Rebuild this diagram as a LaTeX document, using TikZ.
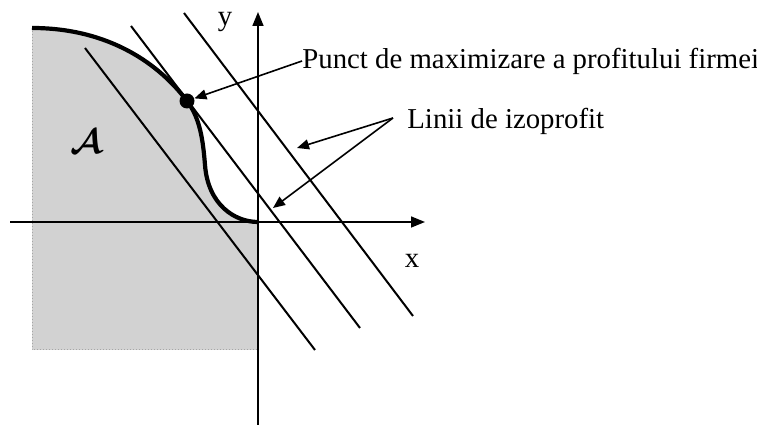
\documentclass[tikz,border=0pt]{standalone}
\usepackage{fontspec}
\usepackage{amsmath}
\setmainfont{Liberation Serif}
\usetikzlibrary{arrows.meta}
\begin{document}
\begin{tikzpicture}[
  x=0.5pt, y=-0.5pt,
  axis/.style={line width=0.8pt, -{Triangle[length=7pt, width=5.5pt]}},
  izo/.style={line width=1pt},
  frontier/.style={line width=2.1pt},
  lead/.style={line width=0.8pt, -{Triangle[length=6pt, width=5pt]}},
  lbl/.style={font=\fontsize{14.4}{17}\selectfont, inner sep=0pt}
]
  \useasboundingbox (0,0) rectangle (757,426);

  % Multimea A (zona hasurata)
  \fill[gray!35] (32,28) .. controls (110,28) and (160,65) .. (187,101)
    .. controls (200,118) and (203,140) .. (205,165)
    .. controls (208,205) and (235,222) .. (258,222)
    -- (258,350) -- (32,350) -- cycle;
  \draw[gray!70, densely dotted, line width=0.5pt] (32,28) -- (32,350) -- (258,350);

  % Axe
  \coordinate (xa) at (10,222);
  \coordinate (xb) at (425,222);
  \coordinate (ya) at (258,425);
  \coordinate (yb) at (258,12);
  \draw[axis] (xa) -- (xb);
  \draw[axis] (ya) -- (yb);
  \node[lbl] (ylab) at (225,22) {y};
  \node[lbl] (xlab) at (412,261) {x};

  % Frontiera
  \draw[frontier] (32,28) .. controls (110,28) and (160,65) .. (187,101)
    .. controls (200,118) and (203,140) .. (205,165)
    .. controls (208,205) and (235,222) .. (258,222);

  % Linii de izoprofit
  \coordinate (i1a) at (85,48);   \coordinate (i1b) at (315,350);
  \coordinate (i2a) at (131,26);  \coordinate (i2b) at (360,328);
  \coordinate (i3a) at (184,13);  \coordinate (i3b) at (413,316);
  \draw[izo] (i1a) -- (i1b);
  \draw[izo] (i2a) -- (i2b);
  \draw[izo] (i3a) -- (i3b);

  % Punct optim
  \node[circle, fill=black, inner sep=0pt, minimum size=7.5pt] (opt) at (187,101) {};
  \node[lbl, font=\LARGE] (A) at (86,142) {$\boldsymbol{\mathcal{A}}$};

  % Etichete
  \node[lbl, anchor=west] (punct) at (302,61) {Punct de maximizare a profitului firmei};
  \node[lbl, anchor=west] (linii) at (407,121) {Linii de izoprofit};
  \coordinate (lstart) at (393,118);
  \coordinate (t3) at (297,148);
  \coordinate (t2) at (273,208);

  \draw[lead] (punct.west) -- (opt);
  \draw[lead] (lstart) -- (t3);
  \draw[lead] (lstart) -- (t2);
\end{tikzpicture}
\end{document}
